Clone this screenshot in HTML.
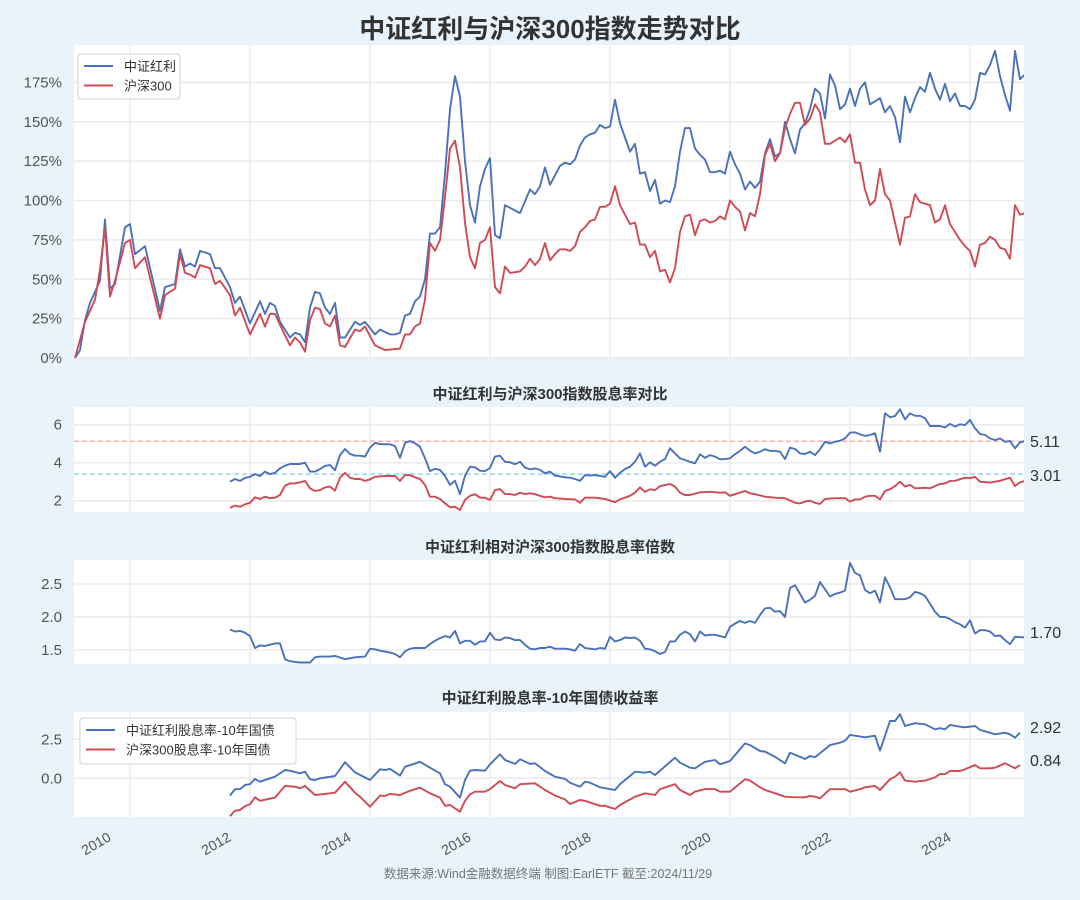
<!DOCTYPE html>
<html><head><meta charset="utf-8"><style>
html,body{margin:0;padding:0;background:#e8f3fc;}
svg{display:block;font-family:"Liberation Sans","Noto Sans CJK SC",sans-serif;}
</style></head><body>
<svg id="chart" width="1080" height="900" viewBox="0 0 1080 900" xmlns="http://www.w3.org/2000/svg">
<rect x="0" y="0" width="1080" height="900" fill="#e8f3fc"/>
<text x="550" y="38" text-anchor="middle" font-size="26" font-weight="bold" fill="#333">中证红利与沪深300指数走势对比</text>
<text x="550" y="399" text-anchor="middle" font-size="15" font-weight="bold" fill="#333">中证红利与沪深300指数股息率对比</text>
<text x="550" y="552" text-anchor="middle" font-size="15" font-weight="bold" fill="#333">中证红利相对沪深300指数股息率倍数</text>
<text x="550" y="703" text-anchor="middle" font-size="15" font-weight="bold" fill="#333">中证红利股息率-10年国债收益率</text>
<text x="548" y="878" text-anchor="middle" font-size="12.5" fill="#777">数据来源:Wind金融数据终端  制图:EarlETF 截至:2024/11/29</text>
<g id="layer"></g>
</svg>
<script>
const b1Months=[0,1,2,3,5,6,7,8,10,11,12,14,17,18,20,21,22,23,24,25,27,28,29,31,32,33,35,37,38,39,40,41,43,44,45,46,47,48,49,50,51,52,53,54,56,57,58,60,61,63,64,65,66,67,68,69,70,71,72,73,74,75,76,77,78,79,80,81,82,83,84,85,86,89,91,92,93,94,95,97,98,99,100,101,102,103,104,105,106,107,108,109,110,111,112,113,114,115,116,117,118,119,120,121,122,123,124,125,126,127,128,129,130,131,132,133,134,135,136,137,138,139,140,141,142,143,144,145,146,147,148,149,150,151,152,153,154,155,156,157,158,159,160,161,162,163,164,165,166,167,168,169,170,171,172,173,174,175,176,177,178,179,180,181,182,183,184,185,186,187,188,189,190];
const b1Values=[0,5,24,35,49,88,44,47,83,85,66,71,30,45,47,69,58,60,58,68,66,57,57,45,35,39,22,36,28,35,33,23,13,16,15,10,32,42,41,32,28,35,13,13,23,21,23,15,18,15,15,16,27,28,36,39,50,79,79,83,117,158,179,166,125,97,86,109,120,127,78,76,97,92,107,104,109,121,110,122,124,123,126,135,140,142,143,148,146,147,164,149,140,131,136,117,118,106,113,98,100,99,109,131,146,146,133,129,126,118,118,119,117,131,123,117,107,112,108,112,130,139,128,130,150,139,130,145,149,158,171,168,152,180,173,158,161,171,160,171,175,161,163,165,156,160,153,137,166,156,165,172,169,181,171,164,174,163,168,160,160,158,164,181,180,186,195,179,167,157,195,177,180];
const r1Months=[0,2,4,5,6,7,8,10,11,12,14,17,18,20,21,22,23,24,25,27,28,29,31,32,33,35,37,38,39,40,41,43,44,45,46,47,48,49,50,51,52,53,54,56,57,58,60,62,65,66,67,68,69,70,71,72,73,74,75,76,77,78,79,80,81,82,83,84,85,86,87,89,90,91,92,93,94,95,96,97,98,99,100,101,102,103,104,105,106,107,108,109,110,111,112,113,114,115,116,117,118,119,120,121,122,123,124,125,126,127,128,129,130,131,132,133,134,135,136,137,138,139,140,141,142,143,144,145,146,147,148,149,150,151,152,153,154,155,156,157,158,159,160,161,162,163,164,165,166,167,168,169,170,171,172,173,174,175,176,177,178,179,180,181,182,183,184,185,186,187,188,189,190];
const r1Values=[0,23,37,56,83,39,49,73,75,57,64,25,40,44,66,54,53,51,59,57,47,49,40,27,32,15,28,20,28,28,21,8,13,10,4,24,32,31,22,20,27,8,7,18,17,20,8,5,6,15,15,20,22,37,73,68,75,102,133,138,121,86,64,57,73,75,83,45,41,58,54,55,58,63,59,63,73,62,66,69,69,68,71,80,83,87,88,96,96,98,109,97,91,85,86,72,72,64,68,55,56,48,57,80,90,91,78,87,88,86,87,90,88,100,96,93,81,92,90,104,129,136,125,130,146,155,162,162,148,152,161,156,136,136,138,140,137,142,124,124,107,97,100,120,104,100,86,72,89,90,104,99,98,97,86,88,97,85,80,75,71,68,58,72,73,77,75,70,69,63,97,91,92];
const b2Months=[31,32,33,34,35,36,37,38,39,40,41,42,43,45,46,47,48,49,50,51,52,53,54,55,56,57,58,59,60,61,63,64,65,66,67,68,69,70,71,72,73,74,75,76,77,78,79,80,81,82,83,84,85,86,87,88,89,90,91,92,93,94,95,96,98,99,100,101,102,103,104,105,106,107,108,109,110,111,112,113,114,115,116,117,118,119,120,121,122,123,124,125,126,127,128,129,130,131,132,133,134,135,136,137,138,139,140,141,142,143,144,145,146,147,148,149,150,151,152,153,154,155,156,157,158,159,160,161,162,163,164,165,166,167,168,169,170,171,172,173,174,175,176,177,178,179,180,181,182,183,184,185,186,187,188,189,190];
const b2Values=[3.0,3.14,3.04,3.2,3.26,3.4,3.3,3.53,3.4,3.47,3.7,3.84,3.93,3.93,4.0,3.53,3.53,3.67,3.83,3.88,3.6,4.4,4.72,4.46,4.37,4.37,4.32,4.79,5.04,4.98,4.97,4.88,4.26,5.05,5.14,5.02,4.84,4.23,3.56,3.68,3.62,3.3,2.83,3.05,2.34,3.32,3.79,3.76,3.58,3.56,3.72,4.32,4.37,4.05,4.02,3.92,4.05,3.74,3.65,3.7,3.62,3.44,3.53,3.32,3.23,3.21,3.14,3.04,3.35,3.32,3.35,3.3,3.26,3.56,3.21,3.47,3.67,3.79,4.05,4.49,3.79,4.02,3.84,4.05,4.19,4.76,4.49,4.23,4.14,4.05,3.97,4.44,4.26,4.4,4.32,4.18,4.19,4.23,4.44,4.62,4.84,4.63,4.49,4.58,4.71,4.62,4.62,4.58,4.19,4.79,4.72,4.49,4.46,4.58,4.4,4.71,5.1,5.02,5.1,5.16,5.28,5.58,5.6,5.49,5.41,5.46,5.55,4.58,6.6,6.39,6.46,6.81,6.28,6.6,6.47,6.47,6.34,5.93,5.93,5.93,5.86,6.04,5.9,6.02,5.98,6.25,5.81,5.51,5.46,5.28,5.19,5.28,5.1,5.14,4.76,5.07,5.14];
const r2Months=[31,32,33,34,35,36,37,38,39,40,41,42,43,44,45,46,47,48,49,50,51,52,53,54,55,56,57,58,59,60,62,64,65,66,67,68,69,70,71,72,73,74,75,76,77,78,79,80,81,82,83,84,85,86,87,88,89,90,91,92,93,94,95,96,98,100,101,102,104,106,108,109,111,112,113,114,115,116,117,119,120,121,122,123,125,127,129,130,131,132,134,135,136,138,140,142,144,145,146,147,148,149,150,152,154,155,156,157,158,159,160,161,162,163,164,165,166,167,168,170,171,173,174,175,176,178,179,180,181,183,185,187,188,189,190];
const r2Values=[1.63,1.74,1.68,1.81,1.89,2.18,2.09,2.21,2.13,2.16,2.3,2.79,2.91,2.91,2.97,3.04,2.65,2.51,2.56,2.7,2.74,2.53,3.21,3.47,3.21,3.14,3.14,3.05,3.12,3.26,3.3,3.3,3.04,3.35,3.35,3.23,3.14,2.83,2.21,2.21,2.09,1.86,1.65,1.68,1.51,2.04,2.26,2.34,2.16,2.16,2.04,2.56,2.61,2.35,2.35,2.3,2.42,2.35,2.39,2.34,2.25,2.18,2.21,2.13,2.09,2.07,1.89,2.16,2.16,2.09,1.92,2.07,2.26,2.42,2.7,2.47,2.6,2.56,2.77,2.88,2.74,2.42,2.3,2.3,2.44,2.47,2.42,2.44,2.26,2.34,2.51,2.39,2.34,2.21,2.16,2.13,1.89,1.86,1.95,2.0,1.89,1.83,2.09,2.13,2.13,1.95,2.07,2.07,2.21,2.26,2.26,2.07,2.51,2.6,2.77,3.0,2.74,2.83,2.65,2.68,2.65,2.88,2.91,3.04,3.05,3.21,3.18,3.26,3.0,2.95,3.05,3.21,2.77,2.97,3.04];
const q3Months=[31,32,33,34,35,36,37,38,39,40,41,42,43,44,45,47,48,49,51,52,54,56,58,59,60,61,63,64,65,66,67,68,70,71,72,73,74,75,76,77,78,79,80,81,82,83,84,85,86,87,88,89,90,91,92,93,94,95,96,98,99,100,101,102,103,104,105,106,107,108,109,110,111,112,113,114,115,116,117,118,119,120,121,122,123,124,125,126,127,128,129,130,131,132,133,134,135,136,137,138,139,140,141,142,143,144,145,146,147,148,149,150,151,152,153,154,155,156,157,158,159,160,161,162,163,164,165,166,167,168,169,170,171,172,173,174,175,176,177,178,179,180,181,182,183,184,185,186,187,188,190];
const q3Values=[1.81,1.78,1.79,1.76,1.71,1.53,1.57,1.56,1.58,1.6,1.6,1.36,1.33,1.32,1.31,1.31,1.39,1.4,1.4,1.41,1.36,1.39,1.4,1.52,1.51,1.49,1.46,1.44,1.39,1.48,1.52,1.53,1.53,1.59,1.64,1.68,1.71,1.69,1.79,1.6,1.64,1.64,1.58,1.63,1.63,1.76,1.66,1.65,1.69,1.68,1.65,1.65,1.58,1.52,1.51,1.53,1.53,1.55,1.52,1.52,1.51,1.49,1.59,1.53,1.52,1.51,1.53,1.52,1.7,1.63,1.65,1.69,1.68,1.69,1.64,1.52,1.51,1.48,1.44,1.47,1.63,1.63,1.73,1.78,1.74,1.63,1.78,1.72,1.73,1.73,1.71,1.69,1.85,1.9,1.94,1.91,1.94,1.91,2.03,2.13,2.14,2.08,2.09,2.0,2.44,2.48,2.35,2.22,2.26,2.32,2.53,2.42,2.31,2.35,2.37,2.4,2.82,2.67,2.63,2.41,2.36,2.4,2.22,2.6,2.45,2.27,2.27,2.27,2.3,2.38,2.36,2.32,2.2,2.08,2.0,2.0,1.97,1.92,1.89,1.84,1.95,1.75,1.8,1.8,1.78,1.71,1.72,1.65,1.59,1.7,1.69];
const b4Months=[31,32,33,34,35,36,37,39,40,42,43,45,46,47,48,49,52,54,56,59,61,62,63,65,66,69,71,73,74,75,77,78,79,80,82,83,85,86,88,89,91,92,94,96,98,99,101,102,103,105,108,109,111,112,114,115,116,120,121,123,124,126,128,129,131,134,135,137,138,140,142,143,145,146,147,148,151,153,154,155,156,158,160,161,163,164,165,166,168,170,172,173,174,175,177,178,180,181,184,186,187,188,189];
const b4Values=[-1.11,-0.7,-0.7,-0.43,-0.38,-0.04,-0.22,0,0.1,0.53,0.49,0.32,0.42,-0.06,-0.11,0,0.15,1.03,0.38,-0.11,0.58,0.53,0.6,0.17,0.74,1.06,0.68,0.32,-0.38,-0.54,-1.24,-0.11,0.49,0.53,0.49,0.9,1.54,1.17,0.92,1.22,0.92,0.96,0.47,0.1,-0.04,-0.28,-0.54,-0.22,-0.28,-0.58,-0.75,-0.37,0.15,0.42,0.36,0.42,0.21,1.32,1.0,0.68,0.64,1.06,1.17,0.9,1.11,2.24,2.13,1.75,1.71,1.38,0.96,1.64,1.38,1.24,1.43,1.35,2.13,2.28,2.41,2.78,2.73,2.63,2.73,1.77,3.67,3.67,4.1,3.35,3.53,3.46,3.14,3.21,3.14,3.42,3.31,3.27,3.35,3.1,2.82,2.92,2.82,2.6,2.92];
const r4Months=[31,32,33,34,35,36,37,40,42,44,45,46,48,50,52,54,56,57,59,61,62,63,65,67,69,71,73,74,75,77,78,79,80,82,83,85,86,88,89,92,94,96,98,99,101,102,105,106,108,109,111,112,114,116,117,120,121,123,124,126,128,129,131,134,135,137,138,140,142,144,146,147,148,149,151,153,154,155,157,158,160,161,163,164,165,166,168,170,172,173,174,175,177,178,180,181,183,184,186,187,188,189];
const r4Values=[-2.42,-2.08,-2.03,-1.78,-1.67,-1.22,-1.44,-1.24,-0.49,-0.54,-0.64,-0.49,-1.07,-1.0,-0.92,-0.22,-0.92,-1.18,-1.82,-1.11,-1.13,-1.0,-1.07,-0.8,-0.6,-0.96,-1.24,-1.76,-1.71,-2.14,-1.44,-1.03,-0.86,-0.86,-0.69,-0.17,-0.43,-0.64,-0.38,-0.32,-0.75,-1.11,-1.35,-1.65,-1.39,-1.44,-1.76,-1.76,-1.97,-1.71,-1.35,-1.18,-0.96,-1.07,-0.69,-0.38,-0.75,-1.07,-0.86,-0.69,-0.69,-0.86,-0.86,-0.06,-0.15,-0.58,-0.75,-0.96,-1.18,-1.22,-1.22,-1.13,-1.18,-1.28,-0.7,-0.7,-0.69,-0.86,-0.7,-0.58,-0.49,-0.75,-0.06,0.1,0.38,-0.15,-0.22,-0.15,0.06,0.28,0.26,0.47,0.47,0.58,0.85,0.64,0.64,0.68,0.96,0.81,0.64,0.85];
const yearLabels=["2010","2012","2014","2016","2018","2020","2022","2024"];
const yearMonths=[11,35,59,83,107,131,155,179];
const p1Ticks=[0,25,50,75,100,125,150,175];
const p1TickLabels=["0%","25%","50%","75%","100%","125%","150%","175%"];
const p2Ticks=[2,4,6];
const p3Ticks=[1.5,2.0,2.5];
const p4Ticks=[0.0,2.5];
const p2Refs=[5.13,3.4];
const endLabels=["5.11","3.01","1.70","2.92","0.84"];

const NS="http://www.w3.org/2000/svg";
const layer=document.getElementById('layer');
const BLUE="#4a72b8", RED="#cf4a55";
const X0=74, X1=1024;
function xm(m){return 75+5*m;}
const panels=[
 {name:'index',top:45,bot:358,y:v=>358-v*1.575},
 {name:'yield',top:407,bot:512,y:v=>500.7-(v-2)*19.0},
 {name:'ratio',top:560,bot:664,y:v=>650-(v-1.5)*66},
 {name:'spread',top:712,bot:817,y:v=>778.3-v*15.6}
];
function mk(tag,attrs,parent){const e=document.createElementNS(NS,tag);for(const k in attrs)e.setAttribute(k,attrs[k]);(parent||layer).appendChild(e);return e;}
const defs=mk('defs',{});
panels.forEach((p,i)=>{
  const cp=mk('clipPath',{id:'clip'+i},defs);
  mk('rect',{x:X0,y:p.top,width:X1-X0,height:p.bot-p.top},cp);
  const bg=mk('rect',{x:X0,y:p.top,width:X1-X0,height:p.bot-p.top,fill:'#fff'});
  
  
  yearMonths.forEach(m=>{
    const g=mk('line',{x1:xm(m),x2:xm(m),y1:p.top,y2:p.bot,stroke:'#e3e3e3','stroke-width':1});
    
    
  });
});
function yTicks(p,ticks,labels){
  ticks.forEach((t,i)=>{
    const y=p.y(t);
    const g=mk('line',{x1:X0,x2:X1,y1:y,y2:y,stroke:'#ebebeb','stroke-width':1.5});
    
    
    const tx=mk('text',{x:62,y:y+5,'text-anchor':'end','font-size':15,fill:'#555'});
    tx.textContent=labels[i];
    
    
  });
}
yTicks(panels[0],p1Ticks,p1TickLabels);
yTicks(panels[1],p2Ticks,p2Ticks.map(String));
yTicks(panels[2],p3Ticks,p3Ticks.map(v=>v.toFixed(1)));
yTicks(panels[3],p4Ticks,p4Ticks.map(v=>v.toFixed(1)));
// reference lines
[["#f4a0a0",p2Refs[0],'ref-line-dividend'],["#8ec9f0",p2Refs[1],'ref-line-hs300']].forEach(r=>{
  const y=panels[1].y(r[1]);
  const l=mk('line',{x1:X0,x2:X1,y1:y,y2:y,stroke:r[0],'stroke-width':1.2,'stroke-dasharray':'5,3'});
  
  
});
function series(pi,months,vals,color,name){
  const p=panels[pi];
  const pts=months.map((m,i)=>xm(m).toFixed(1)+','+p.y(vals[i]).toFixed(1)).join(' ');
  const pl=mk('polyline',{points:pts,fill:'none',stroke:color,'stroke-width':1.9,'stroke-linejoin':'round','clip-path':'url(#clip'+pi+')'});
  
  
}
series(0,b1Months,b1Values,BLUE,'dividend-index-line');
series(0,r1Months,r1Values,RED,'hs300-index-line');
series(1,b2Months,b2Values,BLUE,'dividend-yield-line');
series(1,r2Months,r2Values,RED,'hs300-yield-line');
series(2,q3Months,q3Values,BLUE,'yield-ratio-line');
series(3,b4Months,b4Values,BLUE,'dividend-spread-line');
series(3,r4Months,r4Values,RED,'hs300-spread-line');
// end labels
const endY=[441,475,632,727,760];
endLabels.forEach((t,i)=>{
  const tx=mk('text',{x:1030,y:endY[i]+6,'font-size':16,fill:'#333'});
  tx.textContent=t;
  
  
});
// x labels
yearMonths.forEach((m,i)=>{
  const x=xm(m)-18, y=840;
  const tx=mk('text',{x:x,y:y,'text-anchor':'end','font-size':14,fill:'#555',transform:'rotate(-30 '+x+' '+y+')'});
  tx.textContent=yearLabels[i];
  
  
});
// legends
function legend(x,y,w,h,items,name){
  const g=mk('g',{});
  
  
  mk('rect',{x:x,y:y,width:w,height:h,fill:'#fff',stroke:'#d0d0d0',rx:3},g);
  items.forEach((it,i)=>{
    const yy=y+12+i*19.5;
    mk('line',{x1:x+6,x2:x+35,y1:yy,y2:yy,stroke:it[1],'stroke-width':1.9},g);
    const tx=mk('text',{x:x+46,y:yy+5,'font-size':13,fill:'#333'},g);
    tx.textContent=it[0];
    
    
  });
}
legend(78,54,102,45,[["中证红利",BLUE],["沪深300",RED]],'index-legend');
legend(80,718,216,46,[["中证红利股息率-10年国债",BLUE],["沪深300股息率-10年国债",RED]],'spread-legend');
</script>
</body></html>
